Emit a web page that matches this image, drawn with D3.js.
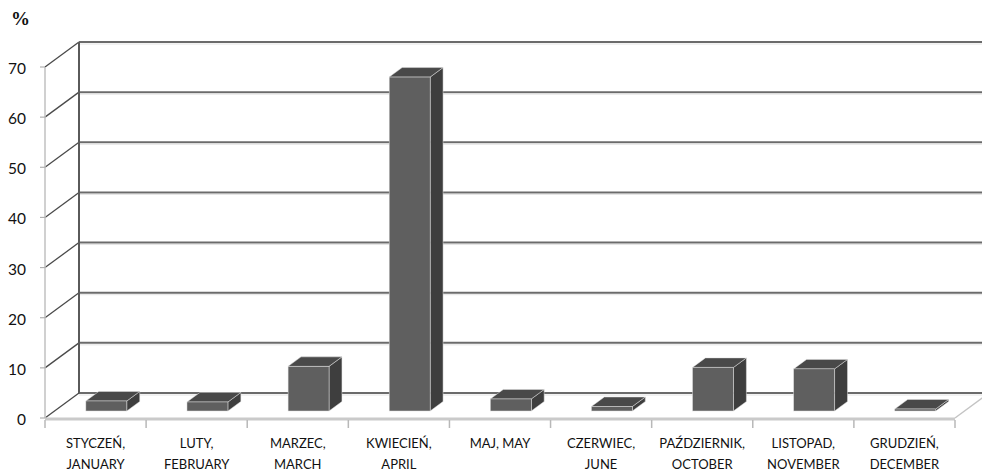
<!DOCTYPE html>
<html>
<head>
<meta charset="utf-8">
<script src="https://cdn.jsdelivr.net/npm/d3@7/dist/d3.min.js"></script>
<style>
  html, body { margin: 0; padding: 0; background: #fff; }
  svg { display: block; }
</style>
</head>
<body>
<svg id="chart" width="982" height="476"></svg>
<script>
const categoriesPL = ["STYCZEŃ,", "LUTY,", "MARZEC,", "KWIECIEŃ,", "MAJ, MAY", "CZERWIEC,", "PAŹDZIERNIK,", "LISTOPAD,", "GRUDZIEŃ,"];
const categoriesEN = ["JANUARY", "FEBRUARY", "MARCH", "APRIL", "", "JUNE", "OCTOBER", "NOVEMBER", "DECEMBER"];
const values = [2.0, 1.8, 8.9, 66.6, 2.4, 0.9, 8.7, 8.4, 0.4];
const yTicks = [0, 10, 20, 30, 40, 50, 60, 70];
const unitLabel = "%";

const W = 982, H = 476;
const svg = d3.select("#chart");

const x = d3.scaleBand().domain(d3.range(categoriesPL.length)).range([45, 955]).padding(0);
const y = d3.scaleLinear().domain([0, 70]).range([418, 67]);

// depth offsets
const DX = 34, DY = -25;

// Back wall gridlines
svg.append("g").selectAll("line").data(yTicks).join("line")
  .attr("x1", 45 + DX).attr("x2", W)
  .attr("y1", d => y(d) + DY).attr("y2", d => y(d) + DY)
  .attr("stroke", "#6b6b6b").attr("stroke-width", 2);
svg.append("g").selectAll("line").data(yTicks).join("line")
  .attr("x1", 45 + DX).attr("x2", W)
  .attr("y1", d => y(d) + DY + 2).attr("y2", d => y(d) + DY + 2)
  .attr("stroke", "#e4e4e4").attr("stroke-width", 1);

// Side wall diagonals
svg.append("g").selectAll("line").data(yTicks).join("line")
  .attr("x1", 45).attr("x2", 45 + DX)
  .attr("y1", d => y(d)).attr("y2", d => y(d) + DY)
  .attr("stroke", "#4a4a4a").attr("stroke-width", 1.3);

// Back wall left vertical edge
svg.append("line")
  .attr("x1", 45 + DX).attr("x2", 45 + DX)
  .attr("y1", y(70) + DY).attr("y2", y(0) + DY)
  .attr("stroke", "#5a5a5a").attr("stroke-width", 2);

// Floor right diagonal
svg.append("line")
  .attr("x1", 955).attr("x2", 955 + DX)
  .attr("y1", y(0)).attr("y2", y(0) + DY)
  .attr("stroke", "#c4c4c4").attr("stroke-width", 1.5);

// Front vertical axis (light)
svg.append("line")
  .attr("x1", 45).attr("x2", 45)
  .attr("y1", y(70)).attr("y2", y(0))
  .attr("stroke", "#c0c0c0").attr("stroke-width", 1.5);

// Y ticks
svg.append("g").selectAll("line").data(yTicks).join("line")
  .attr("x1", 40).attr("x2", 45)
  .attr("y1", d => y(d)).attr("y2", d => y(d))
  .attr("stroke", "#b0b0b0").attr("stroke-width", 1.2);

// Y labels
svg.append("g").selectAll("text").data(yTicks).join("text")
  .attr("x", 26).attr("y", d => y(d) + 7)
  .attr("text-anchor", "end")
  .attr("font-family", "Lato, 'Open Sans', sans-serif")
  .attr("font-size", 15.5)
  .attr("fill", "#111")
  .text(d => d);

// Unit label
svg.append("text")
  .attr("x", 11).attr("y", 25)
  .attr("font-family", "'Liberation Serif', 'DejaVu Serif', serif")
  .attr("font-weight", "bold")
  .attr("font-size", 19)
  .attr("fill", "#111")
  .text(unitLabel);

// Floor front edge
svg.append("line")
  .attr("x1", 45).attr("x2", 955)
  .attr("y1", y(0) + 1).attr("y2", y(0) + 1)
  .attr("stroke", "#cacaca").attr("stroke-width", 3);

// Category ticks
const tickXs = d3.range(categoriesPL.length + 1).map(i => i < categoriesPL.length ? x(i) : x(i - 1) + x.bandwidth());
svg.append("g").selectAll("line").data(tickXs).join("line")
  .attr("x1", d => d).attr("x2", d => d)
  .attr("y1", y(0) + 2).attr("y2", y(0) + 10)
  .attr("stroke", "#b8b8b8").attr("stroke-width", 1.5);

// Bars (3D boxes)
const bw = x.bandwidth();
const frontF = 0.28, depthF = 0.38;
const fdx = DX * frontF, fdy = DY * frontF;
const bdx = DX * depthF, bdy = DY * depthF;
const barW = bw * 0.405;
const barOff = bw * 0.31;

const bars = svg.append("g").selectAll("g").data(values).join("g");
bars.each(function(v, i) {
  const g = d3.select(this);
  const x0 = x(i) + barOff + fdx;
  const x1 = x0 + barW;
  const yb = y(0) + fdy;
  const yt = y(v) + fdy;
  g.append("path")
    .attr("d", `M${x1},${yt} L${x1 + bdx},${yt + bdy} L${x1 + bdx},${yb + bdy} L${x1},${yb} Z`)
    .attr("fill", "#3e3e3e").attr("stroke", "#e0e0e0").attr("stroke-width", 0.5);
  g.append("path")
    .attr("d", `M${x0},${yt} L${x0 + bdx},${yt + bdy} L${x1 + bdx},${yt + bdy} L${x1},${yt} Z`)
    .attr("fill", "#494949").attr("stroke", "#e0e0e0").attr("stroke-width", 0.5);
  g.append("rect")
    .attr("x", x0).attr("y", yt)
    .attr("width", barW).attr("height", Math.max(0, yb - yt))
    .attr("fill", "#5f5f5f").attr("stroke", "#e0e0e0").attr("stroke-width", 0.5);
});

// Category labels
const lab = svg.append("g")
  .attr("font-family", "Lato, 'Open Sans', sans-serif")
  .attr("font-size", 13)
  .attr("fill", "#111")
  .attr("text-anchor", "middle");
lab.selectAll("text.l1").data(categoriesPL).join("text")
  .attr("class", "l1")
  .attr("x", (d, i) => x(i) + bw / 2)
  .attr("y", 448)
  .text(d => d);
lab.selectAll("text.l2").data(categoriesEN).join("text")
  .attr("class", "l2")
  .attr("x", (d, i) => x(i) + bw / 2)
  .attr("y", 469)
  .text(d => d);
</script>
</body>
</html>
